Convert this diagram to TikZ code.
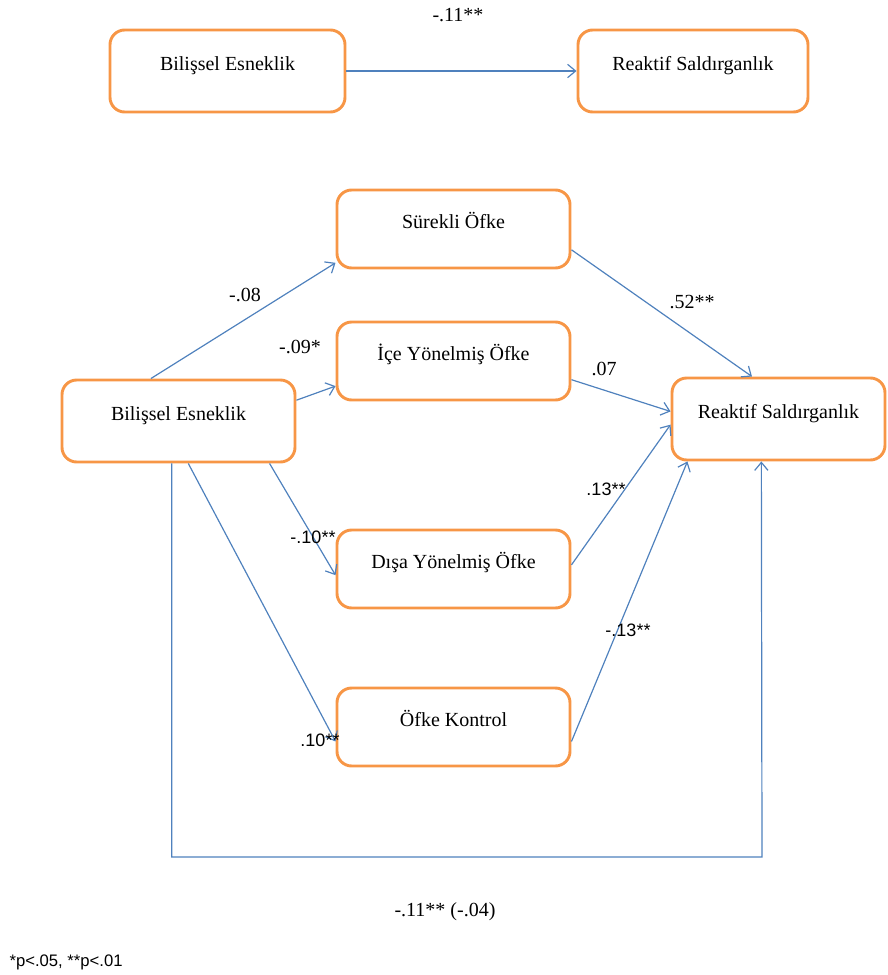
\documentclass[tikz,border=0pt]{standalone}
\usepackage{fontspec}
\setmainfont{Liberation Serif}
\setsansfont{Liberation Sans}
\usetikzlibrary{arrows.meta,positioning}
\definecolor{boxorange}{HTML}{F79646}
\definecolor{arrowblue}{HTML}{4F81BD}
\tikzset{
  modelbox/.style={draw=boxorange, line width=2.2pt, rounded corners=11pt, fill=white, align=center, minimum width=174.75pt, minimum height=58.5pt, text height=11pt, text depth=12.5pt, font=\fontsize{15}{18}\selectfont},
  modelarrow/.style={draw=arrowblue, line width=0.9pt, -{Straight Barb[length=6pt,width=10pt]}},
  coeflabel/.style={font=\fontsize{15}{18}\selectfont, inner sep=1pt},
  coefsans/.style={font=\sffamily\fontsize{13.5}{16}\selectfont, inner sep=1pt}
}

\begin{document}
\begin{tikzpicture}[x=0.75pt, y=-0.75pt]
  \useasboundingbox (0,0) rectangle (888,975);
  % total effect
  \node[modelbox, minimum width=176.25pt, minimum height=61.5pt] (bilTop) at (227.5,71) {Bilişsel Esneklik};
  \node[modelbox, minimum width=172.5pt, minimum height=61.5pt] (reakTop) at (693,71) {Reaktif Saldırganlık};
  \draw[modelarrow] (bilTop) -- (reakTop);
  \node[coeflabel] (cTotal) at (458,15) {-.11**};

  % mediation model
  \node[modelbox] (surekli) at (453.5,229) {Sürekli Öfke};
  \node[modelbox] (ice) at (453.5,361) {İçe Yönelmiş Öfke};
  \node[modelbox, minimum height=61.5pt] (bilesn) at (178.5,421) {Bilişsel Esneklik};
  \node[modelbox, minimum width=159.75pt, minimum height=61.5pt] (reaktif) at (778.5,419) {Reaktif Saldırganlık};
  \node[modelbox] (disa) at (453.5,569) {Dışa Yönelmiş Öfke};
  \node[modelbox] (kontrol) at (453.5,727) {Öfke Kontrol};

  \draw[modelarrow] (bilesn.123) -- (surekli.196);
  \draw[modelarrow] (bilesn.10) -- (ice.192);
  \draw[modelarrow] (bilesn.-25) -- (disa.183);
  \draw[modelarrow] (bilesn.-77) -- (kontrol.187);
  \draw[modelarrow] (surekli.-10) -- (reaktif.122);
  \draw[modelarrow] (ice.-9) -- (reaktif.176);
  \draw[modelarrow] (disa.2) -- (reaktif.183);
  \draw[modelarrow] (kontrol.-7) -- (reaktif.205);
  \coordinate (loopEnd) at (762,857);
  \draw[modelarrow] (bilesn.-99) |- (loopEnd) -- (reaktif.-112);

  \node[coeflabel] (aSur) at (245,295) {-.08};
  \node[coeflabel] (aIce) at (300,347) {-.09*};
  \node[coefsans] (aDisa) at (313,537) {-.10**};
  \node[coefsans] (aKon) at (320,740) {.10**};
  \node[coeflabel] (bSur) at (692,302) {.52**};
  \node[coeflabel] (bIce) at (604,369) {.07};
  \node[coefsans] (bDisa) at (606,489) {.13**};
  \node[coefsans] (bKon) at (628,630) {-.13**};
  \node[coeflabel] (cDirect) at (445,912) {-.11** (-.04)};
  \node[coefsans, anchor=west, font=\sffamily\fontsize{12.5}{15}\selectfont] (pNote) at (8,962) {*p<.05, **p<.01};
\end{tikzpicture}
\end{document}
